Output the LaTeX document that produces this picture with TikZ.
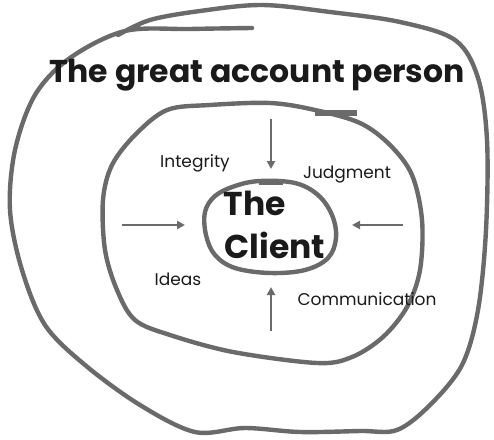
\documentclass[tikz,border=0pt]{standalone}
\usepackage{fontspec}
\setmainfont{Poppins}
\usetikzlibrary{arrows.meta}
\definecolor{loopgray}{HTML}{6A6A6A}
\definecolor{inkblack}{HTML}{1A1A1A}
\tikzset{
  loopline/.style={draw=loopgray, line width=4.4pt, line join=round, line cap=round},
  thickbit/.style={draw=loopgray, line width=5.5pt, line cap=butt},
  inarrow/.style={draw=loopgray, line width=2.6pt, -{Triangle[length=8pt,width=8pt]}},
  smalltext/.style={text=inkblack, font=\fontsize{17}{20}\selectfont, anchor=base, inner sep=0pt},
  bigtext/.style={text=inkblack, font=\fontsize{33}{36}\selectfont\bfseries, anchor=base, inner sep=0pt},
  titletext/.style={text=inkblack, font=\fontsize{31.5}{34}\selectfont\bfseries, anchor=base, inner sep=0pt}
}
\begin{document}
\begin{tikzpicture}[x=1pt,y=-1pt]
\useasboundingbox (0,0) rectangle (494,439);
% outer loop
\draw[loopline] plot[smooth, tension=0.55] coordinates {
 (252,28) (190,29) (125,31) (70,58) (35,95) (15,150) (10,210) (22,270)
 (45,325) (85,365) (140,405) (195,432) (245,428) (300,432) (360,431)
 (397,430) (430,405) (462,365) (478,310) (486,230) (487,140) (478,78)
 (455,40) (400,22) (330,12) (262,5) (200,11) (150,20) (118,35)};
% middle loop
\draw[loopline] plot[smooth cycle, tension=0.55] coordinates {
 (315,110) (270,103) (210,105) (167,110) (135,135) (112,165) (103,200)
 (105,250) (117,290) (135,320) (170,335) (233,352) (317,363) (352,357)
 (383,337) (407,307) (420,270) (422,220) (412,175) (390,145) (360,123)};
\draw[thickbit] (315,113) -- (357,113);
% inner loop
\draw[loopline] plot[smooth cycle, tension=0.6] coordinates {
 (260,181) (235,186) (215,196) (205,212) (206,235) (215,255) (235,268)
 (270,273) (305,270) (328,258) (336,238) (332,215) (318,195) (295,183)};
\draw[thickbit] (259,182) -- (283,182);
% texts
\node[titletext] (title) at (257,82) {The great account person};
\node[bigtext] (the) at (255,215) {The};
\node[bigtext] (client) at (275,258) {Client};
\node[smalltext] (integrity) at (195,167) {Integrity};
\node[smalltext] (judgment) at (347,178) {Judgment};
\node[smalltext] (ideas) at (178,285) {Ideas};
\node[smalltext] (comm) at (367,305) {Communication};
% arrows
\coordinate (ts) at (271,119); \coordinate (te) at (271,169);
\coordinate (ls) at (122,225); \coordinate (le) at (185,225);
\coordinate (rs) at (403,225); \coordinate (re) at (352,225);
\coordinate (bs) at (271,331); \coordinate (be) at (271,287);
\draw[inarrow] (ts) -- (te);
\draw[inarrow] (ls) -- (le);
\draw[inarrow] (rs) -- (re);
\draw[inarrow] (bs) -- (be);
\end{tikzpicture}
\end{document}
